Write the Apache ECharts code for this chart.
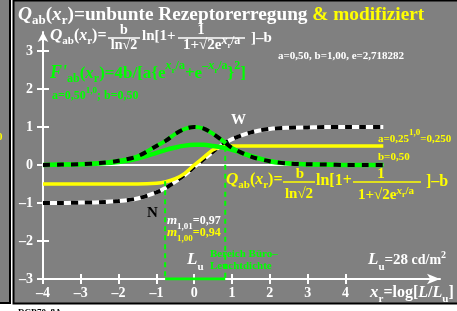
<!DOCTYPE html>
<html>
<head>
<meta charset="UTF-8">
<title>Qab unbunte Rezeptorerregung</title>
<script src="https://cdn.jsdelivr.net/npm/echarts@6/dist/echarts.min.js"></script>
<style>
html, body { margin: 0; padding: 0; background: #fff; }
#chart { width: 457px; height: 311px; }
</style>
</head>
<body>
<div id="chart"></div>
<script>
// Daten
var xs = [-4, -3.5, -3, -2.5, -2, -1.5, -1, -0.75, -0.5, -0.25, 0, 0.25, 0.5, 0.75, 1, 1.5, 2, 2.5, 3, 3.5, 4, 4.5, 5];
var qWhite = [-1, -1, -0.99, -0.98, -0.95, -0.88, -0.72, -0.6, -0.44, -0.26, -0.05, 0.15, 0.35, 0.54, 0.68, 0.86, 0.95, 0.98, 0.99, 1, 1, 1, 1];
var qYellow = [-0.5, -0.5, -0.5, -0.5, -0.5, -0.5, -0.48, -0.44, -0.36, -0.22, 0, 0.2, 0.4, 0.48, 0.5, 0.5, 0.5, 0.5, 0.5, 0.5, 0.5, 0.5, 0.5];
var fBig = [0, 0.01, 0.02, 0.05, 0.11, 0.23, 0.5, 0.64, 0.82, 0.95, 1, 0.96, 0.82, 0.64, 0.45, 0.22, 0.1, 0.04, 0.02, 0.01, 0, 0, 0];
var fSmall = [0, 0.01, 0.02, 0.04, 0.08, 0.17, 0.32, 0.4, 0.46, 0.51, 0.53, 0.53, 0.5, 0.46, 0.4, 0.24, 0.1, 0.04, 0.02, 0.01, 0, 0, 0];
var zeroX = [-4, 5];
var rangeX = [-0.77, 0.82];
var rangeTop = [-0.43, 0.48];
var rangeBottom = -3;
var xTicks = [-4, -3, -2, -1, 0, 1, 2, 3, 4];
var yTicks = [-3, -2, -1, 0, 1, 2, 3];

var W = '#ffffff', Y = '#ffff00', G = '#00ff00', K = '#000000';

function pts(vals) {
  return xs.map(function (x, i) { return [x, vals[i]]; });
}

// Text-Hilfen
var ctx = document.createElement('canvas').getContext('2d');
function fnt(s, it) { return (it ? 'italic ' : '') + 'bold ' + s + 'px "Liberation Serif"'; }
function tw(str, s, it) { ctx.font = fnt(s, it); return ctx.measureText(str).width; }
var gfx = [];
// seg: [text, size, color, dy, italic]
function run(x, base, segs) {
  segs.forEach(function (g) {
    gfx.push({ type: 'text', x: x, y: base + (g[3] || 0) - 0.3 * g[1], z: 50,
      style: { text: g[0], font: fnt(g[1], g[4]), fill: g[2], align: 'left', verticalAlign: 'middle' } });
    x += tw(g[0], g[1], g[4]);
  });
  return x;
}
function segW(segs) {
  var w = 0;
  segs.forEach(function (g) { w += tw(g[0], g[1], g[4]); });
  return w;
}
function runC(cx, base, segs) { return run(cx - segW(segs) / 2, base, segs); }
function hline(x1, x2, y, c, w) {
  gfx.push({ type: 'line', z: 50, shape: { x1: x1, y1: y, x2: x2, y2: y }, style: { stroke: c, lineWidth: w } });
}

// Rahmen
gfx.push({ type: 'rect', z: -10, shape: { x: -2, y: -2, width: 12, height: 305 }, style: { fill: '#808080', stroke: K, lineWidth: 2 } });
gfx.push({ type: 'rect', z: -10, shape: { x: 13.5, y: 0.5, width: 460, height: 303 }, style: { fill: '#808080', stroke: K, lineWidth: 2 } });

// Titel
run(18, 21, [['Q', 19.3, W, 0, true], ['ab', 13, W, 4], ['(', 19.3, W], ['x', 19.3, W, 0, true], ['r', 13, W, 4], [')=unbunte Rezeptorerregung ', 19.3, W], ['& modifiziert', 19.3, Y]]);

// weisse Formel
run(50, 41, [['Q', 17, W, 0, true], ['ab', 11, W, 3], ['(', 16, W], ['x', 16, W, 0, true], ['r', 11, W, 3], [')=', 16, W]]);
hline(108, 140, 38, W, 1.5);
runC(124, 35, [['b', 14, W]]);
runC(124, 50, [['ln', 14, W], ['\u221a2', 14, W]]);
run(142, 41, [['ln[1+', 15, W]]);
hline(178, 245, 38, W, 1.5);
runC(201, 35, [['1', 14, W]]);
run(183, 50, [['1+\u221a2e', 15, W], ['x', 12, W, -5, true], ['r', 8, W, -2], ['/a', 12, W, -5]]);
run(251, 43, [[']\u2013b', 15, W]]);
run(278, 59, [['a=0,50, b=1,00, e=2,718282', 11, W]]);

// gruene Formel
run(50, 79, [['F\'', 18, G, 0, true], ['ab', 12, G, 4], ['(', 17, G], ['x', 17, G, 0, true], ['r', 12, G, 4], [')=4b/[a{e', 17, G],
  ['x', 12, G, -9, true], ['r', 9, G, -6], ['/a', 12, G, -9], ['+e', 17, G], ['\u2013x', 12, G, -9, true], ['r', 9, G, -6], ['/a', 12, G, -9], ['}', 17, G], ['2', 12, G, -9], [']', 17, G]]);
run(52, 100, [['a=0,50', 12, G], ['1,0', 9, G, -7], ['; b=0,50', 12, G]]);

// gelbe Formel
run(226, 185, [['Q', 17, Y, 0, true], ['ab', 11, Y, 3], ['(', 16, Y], ['x', 16, Y, 0, true], ['r', 11, Y, 3], [')=', 16, Y]]);
hline(283, 315, 182, Y, 1.5);
runC(300, 179, [['b', 15, Y]]);
runC(299, 199, [['ln', 15, Y], ['\u221a2', 15, Y]]);
run(316, 186, [['ln[1+', 16, Y]]);
hline(353, 421, 182, Y, 1.5);
runC(381, 179, [['1', 15, Y]]);
run(358, 200, [['1+\u221a2e', 15, Y], ['x', 11, Y, -6, true], ['r', 8, Y, -3], ['/a', 11, Y, -6]]);
run(426, 187, [[']\u2013b', 16, Y]]);
run(378, 142, [['a=0,25', 11, Y], ['1,0', 9, Y, -7], ['=0,250', 11, Y]]);
run(378, 160, [['b=0,50', 11, Y]]);
run(-3, 140, [['0', 11, Y]]);

// Beschriftungen
run(231, 125, [['W', 15, W]]);
run(147, 218, [['N', 15, K]]);
run(167, 225, [['m', 13, W, 0, true], ['1,01', 9, W, 4], ['=0,97', 12, W]]);
run(167, 237, [['m', 13, Y, 0, true], ['1,00', 9, Y, 4], ['=0,94', 12, Y]]);
run(187, 265, [['L', 17, W, 0, true], ['u', 11, W, 5]]);
run(210, 257, [['Bereich B\u00fcro\u2013', 11, G]]);
run(210, 269, [['Leuchtdichte', 11, G]]);
run(368, 265, [['L', 17, W, 0, true], ['u', 11, W, 5], ['=28', 15, W], [' cd/m', 14, W], ['2', 10, W, -7]]);
run(370, 298, [['x', 17, W, 0, true], ['r', 11, W, 4], ['=log[', 16, W], ['L', 16, W, 0, true], ['/', 16, W], ['L', 16, W, 0, true], ['u', 11, W, 4], [']', 16, W]]);
run(18, 315, [['DCB70_8A', 9, K]]);

var labelStyle = { color: W, fontFamily: 'Liberation Serif', fontWeight: 'bold', fontSize: 14 };
function dash(v) { return String(v).replace('-', '\u2013'); }

var chart = echarts.init(document.getElementById('chart'), null, { renderer: 'canvas' });
chart.setOption({
  animation: false,
  backgroundColor: '#ffffff',
  grid: { left: 43, right: 17, top: 32, bottom: 32, containLabel: false, outerBoundsMode: 'none' },
  xAxis: [{
    type: 'value', min: -4, max: 6.5, position: 'bottom',
    axisLine: { onZero: false, lineStyle: { color: W, width: 2 }, symbol: ['none', 'arrow'], symbolSize: [8, 13] },
    axisTick: { customValues: xTicks, length: 5, lineStyle: { color: W, width: 2 } },
    axisLabel: Object.assign({ customValues: xTicks, margin: 7, formatter: dash }, labelStyle),
    splitLine: { show: false }
  }, {
    type: 'value', min: -4, max: 6.5, position: 'bottom',
    axisLine: { show: false, onZero: false },
    axisTick: { customValues: xTicks, inside: true, length: 5, lineStyle: { color: W, width: 2 } },
    axisLabel: { show: false },
    splitLine: { show: false }
  }],
  yAxis: [{
    type: 'value', min: -3, max: 3.5, position: 'left',
    axisLine: { onZero: false, lineStyle: { color: W, width: 2 }, symbol: ['none', 'arrow'], symbolSize: [8, 10] },
    axisTick: { customValues: yTicks, length: 6, lineStyle: { color: W, width: 2 } },
    axisLabel: Object.assign({ customValues: yTicks, margin: 10, formatter: dash }, labelStyle),
    splitLine: { show: false }
  }, {
    type: 'value', min: -3, max: 3.5, position: 'left',
    axisLine: { show: false, onZero: false },
    axisTick: { customValues: yTicks, inside: true, length: 6, lineStyle: { color: W, width: 2 } },
    axisLabel: { show: false },
    splitLine: { show: false }
  }],
  series: [
    { type: 'line', symbol: 'none', data: zeroX.map(function (x) { return [x, 0]; }), lineStyle: { color: W, width: 2 } },
    { type: 'line', symbol: 'none', smooth: 0.3, data: pts(qWhite), lineStyle: { color: W, width: 4 } },
    { type: 'line', symbol: 'none', smooth: 0.3, data: pts(qWhite), lineStyle: { color: K, width: 4, type: [7, 7] } },
    { type: 'line', symbol: 'none', smooth: 0.3, data: pts(qYellow), lineStyle: { color: Y, width: 3.5 } },
    { type: 'line', symbol: 'none', smooth: 0.3, data: pts(fSmall), lineStyle: { color: G, width: 4.5 } },
    { type: 'line', symbol: 'none', smooth: 0.3, data: pts(fBig), lineStyle: { color: G, width: 4 } },
    { type: 'line', symbol: 'none', smooth: 0.3, data: pts(fBig), lineStyle: { color: K, width: 4, type: [7, 7] } },
    { type: 'line', symbol: 'none', data: [[rangeX[0], rangeTop[0]], [rangeX[0], rangeBottom]], lineStyle: { color: G, width: 2, type: [5, 4] } },
    { type: 'line', symbol: 'none', data: [[rangeX[1], rangeTop[1]], [rangeX[1], rangeBottom]], lineStyle: { color: G, width: 2, type: [5, 4] } },
    { type: 'line', symbol: 'none', data: [[rangeX[0], rangeBottom], [rangeX[1], rangeBottom]], lineStyle: { color: G, width: 3 } }
  ],
  graphic: gfx
});
</script>
</body>
</html>
